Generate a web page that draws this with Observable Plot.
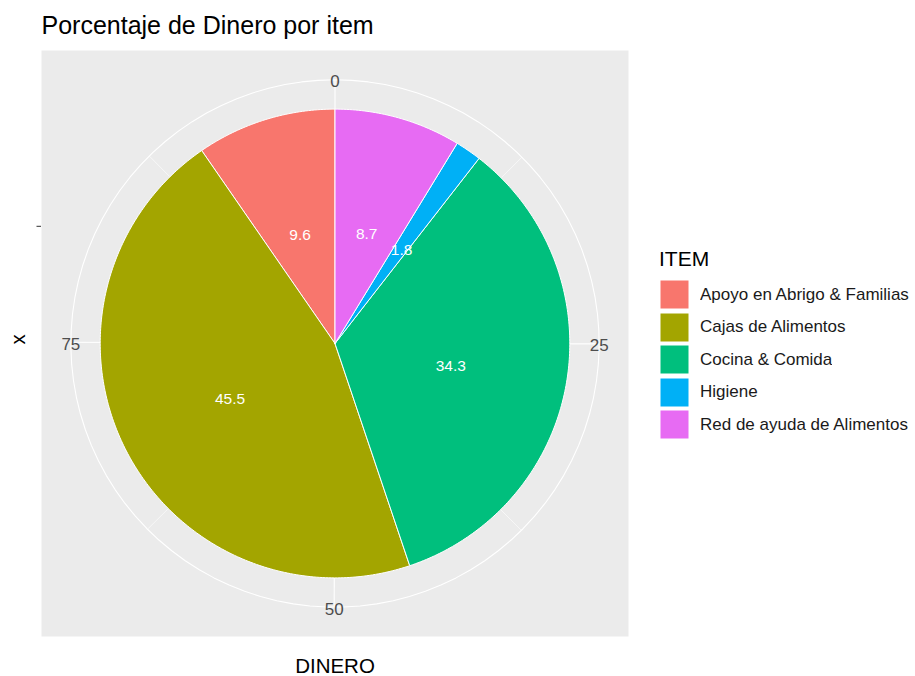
<!DOCTYPE html>
<html><head><meta charset="utf-8">
<script src="https://cdn.jsdelivr.net/npm/d3@7"></script>
<script src="https://cdn.jsdelivr.net/npm/@observablehq/plot@0.6"></script>
<style>
body{margin:0;background:#fff;}
#wrap{position:relative;width:915px;height:676px;font-family:"Liberation Sans",Arial,sans-serif;overflow:hidden;}
#wrap > svg{position:absolute;left:0;top:0;}
#legend{position:absolute;left:660px;top:247px;width:255px;}
#legtitle{font-size:21px;color:#000;line-height:24px;margin:0 0 9px -1px;}
#legend div[class$="-swatch"]{margin-bottom:2.5px !important;padding-bottom:1px;}
#legend div[class$="-swatch"] > svg{margin-right:11px !important;}
#legend div[class$="-swatch"] rect{stroke:#fff;stroke-width:1;}
</style></head><body><div id="wrap"></div>
<script>
const items = ["Apoyo en Abrigo & Familias","Cajas de Alimentos","Cocina & Comida","Higiene","Red de ayuda de Alimentos"];
const values = [9.6, 45.5, 34.3, 1.8, 8.7];
const colors = ["#F8766D","#A3A500","#00BF7D","#00B0F6","#E76BF3"];
const thetaTicks = [0, 25, 50, 75];
const thetaMinor = [12.5, 37.5, 62.5, 87.5];
const title = "Porcentaje de Dinero por item";
const xTitle = "DINERO";
const yTitle = "x";
const legendTitle = "ITEM";

const total = d3.sum(values);
// ggplot stacks the first level on top: last item starts at 0
const starts = values.map((v, i) => d3.sum(values.slice(i + 1)));
const pos = (v, r) => {
  const t = v / total * 2 * Math.PI;
  return {x: 0.5 + r * Math.sin(t), y: 0.5 + r * Math.cos(t)};
};
const R = 0.4;        // pie outer radius (ggplot npc)
const RL = 0.2;       // label radius (bar centre)
const RG = 0.45;      // outer grid circle

const sliceData = items.flatMap((item, i) => {
  const a = starts[i], b = a + values[i];
  const n = Math.max(2, Math.ceil(values[i] / 0.2));
  const pts = [{item, ...pos(0, 0)}];
  for (let k = 0; k <= n; k++) pts.push({item, ...pos(a + (b - a) * k / n, R)});
  pts.push({item, ...pos(0, 0)});
  return pts;
});
const labelData = items.map((item, i) => ({item, value: values[i], ...pos(starts[i] + values[i] / 2, RL)}));
const circle = (r) => d3.range(0, 100).map(k => ({...pos(total * k / 99, r)}));
const spoke = (list) => list.map(v => ({x1: 0.5, y1: 0.5, x2: pos(v, RG).x, y2: pos(v, RG).y}));

const font = "Liberation Sans, Arial, sans-serif";
const chart = Plot.plot({
  width: 915, height: 676,
  marginLeft: 41, marginRight: 287, marginTop: 50, marginBottom: 40,
  style: {fontFamily: font, background: "#fff", overflow: "visible"},
  x: {domain: [0, 1], axis: null},
  y: {domain: [0, 1], axis: null},
  color: {domain: items, range: colors},
  marks: [
    Plot.frame({fill: "#EBEBEB", stroke: "none"}),
    Plot.line(circle(RG), {x: "x", y: "y", stroke: "#fff", strokeWidth: 1.1}),
    Plot.line(circle(RL), {x: "x", y: "y", stroke: "#fff", strokeWidth: 1.1}),
    Plot.link(spoke(thetaMinor), {x1: "x1", y1: "y1", x2: "x2", y2: "y2", stroke: "#fff", strokeWidth: 0.6}),
    Plot.link(spoke(thetaTicks), {x1: "x1", y1: "y1", x2: "x2", y2: "y2", stroke: "#fff", strokeWidth: 1.1}),
    Plot.line(sliceData, {x: "x", y: "y", z: "item", fill: "item", stroke: "#fff", strokeWidth: 1, curve: "linear-closed"}),
    Plot.text(labelData, {x: "x", y: "y", text: d => d.value.toFixed(1), fill: "#fff", fontSize: 15.5, dy: 3}),
    Plot.text(thetaTicks, {x: d => pos(d, RG).x, y: d => pos(d, RG).y, text: d => String(d), fill: "#4D4D4D", fontSize: 17, dy: 2}),
    Plot.axisY({ticks: [0.5 + RL], tickFormat: () => "", tickSize: 4.5, stroke: "#333", label: null}),
    Plot.text([yTitle], {frameAnchor: "left", text: d => d, rotate: -90, dx: -23, dy: 1, fontSize: 20.5, fill: "#000"}),
    Plot.text([xTitle], {frameAnchor: "bottom", text: d => d, lineAnchor: "bottom", dy: 36.5, fontSize: 20.5, fill: "#000"}),
    Plot.text([title], {frameAnchor: "top-left", text: d => d, textAnchor: "start", lineAnchor: "bottom", dy: -16.7, fontSize: 25, fill: "#000"})
  ]
});
const wrap = document.getElementById("wrap");
wrap.appendChild(chart);

const leg = document.createElement("div");
leg.id = "legend";
const lt = document.createElement("div");
lt.id = "legtitle";
lt.textContent = legendTitle;
leg.appendChild(lt);
leg.appendChild(Plot.legend({
  color: {domain: items, range: colors},
  legend: "swatches", columns: 1, swatchSize: 29,
  style: {fontSize: "17px", fontFamily: font, color: "#1A1A1A", margin: "0", minHeight: "0"}
}));
wrap.appendChild(leg);
</script></body></html>
